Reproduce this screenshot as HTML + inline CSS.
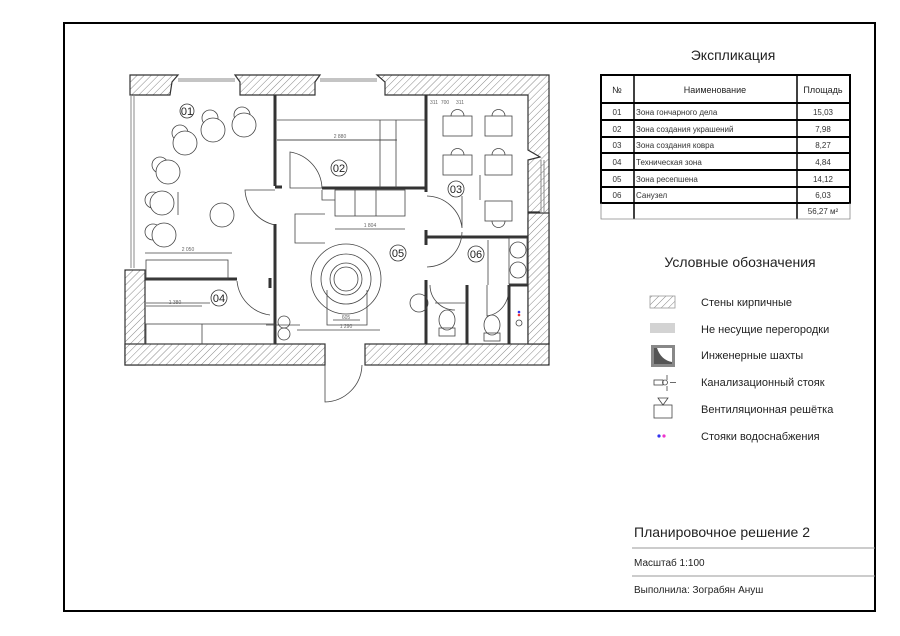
<!DOCTYPE html>
<html><head><meta charset="utf-8"><style>
html,body{margin:0;padding:0;background:#fff;}
svg{display:block;font-family:"Liberation Sans","DejaVu Sans",sans-serif;}
</style></head><body>
<svg width="900" height="636" viewBox="0 0 900 636" xmlns="http://www.w3.org/2000/svg">
<defs>
<pattern id="h" width="5" height="5" patternUnits="userSpaceOnUse" patternTransform="rotate(45)">
<rect width="5" height="5" fill="#fff"/><line x1="0" y1="0" x2="0" y2="5" stroke="#888" stroke-width="1"/>
</pattern>
</defs>
<rect x="64" y="23" width="811" height="588" fill="none" stroke="#000" stroke-width="2"/>

<!-- Walls hatched -->
<g fill="url(#h)" stroke="#333" stroke-width="1.2">
<polygon points="130,75 178,75 172,82 170,95 130,95"/>
<polygon points="235,75 320,75 315,82 315,95 240,95 240,82"/>
<polygon points="377,75 549,75 549,344 528,344 528,218 540,212 528,212 528,160 540,157 528,150 528,95 385,95 385,82"/>
<rect x="125" y="270" width="20" height="95"/>
<rect x="125" y="344" width="200" height="21"/>
<rect x="365" y="344" width="184" height="21"/>
<rect x="528" y="213" width="21" height="131"/>
</g>
<!-- windows -->
<g stroke="#888" stroke-width="1" fill="none">
<line x1="178" y1="79" x2="235" y2="79"/><line x1="178" y1="81" x2="235" y2="81"/>
<line x1="320" y1="79" x2="377" y2="79"/><line x1="320" y1="81" x2="377" y2="81"/>
<line x1="131" y1="95" x2="131" y2="268"/><line x1="134" y1="95" x2="134" y2="268"/>
<line x1="541" y1="160" x2="541" y2="213"/><line x1="544" y1="160" x2="544" y2="213"/>
</g>
<!-- partitions -->
<g stroke="#333" stroke-width="3" fill="none">
<line x1="275" y1="95" x2="275" y2="186"/>
<line x1="275" y1="224" x2="275" y2="344"/>
<line x1="275" y1="187" x2="282" y2="187"/>
<line x1="322" y1="188" x2="427" y2="188"/>
<line x1="426" y1="95" x2="426" y2="192"/>
<line x1="426" y1="230" x2="426" y2="245"/>
<line x1="426" y1="237" x2="528" y2="237"/>
<line x1="145" y1="279" x2="237" y2="279"/>
<line x1="426" y1="280" x2="426" y2="344"/>
<line x1="467" y1="285" x2="467" y2="344"/>
<line x1="509" y1="285" x2="509" y2="344"/>
<line x1="509" y1="285" x2="528" y2="285"/>
<line x1="270" y1="278" x2="270" y2="288"/>
</g>
<!-- furniture lines -->
<g stroke="#444" stroke-width="0.8" fill="none">
<polyline points="277,120 426,120"/>
<line x1="277" y1="140" x2="396" y2="140"/>
<line x1="380" y1="120" x2="380" y2="188"/>
<line x1="396" y1="120" x2="396" y2="188"/>
<rect x="335" y="190" width="70" height="26"/>
<line x1="355" y1="190" x2="355" y2="216"/><line x1="376" y1="190" x2="376" y2="216"/>
<polyline points="322,190 322,200 335,200"/>
<polyline points="325,214 295,214 295,243 325,243"/>
<rect x="146" y="260" width="82" height="19"/>
<rect x="146" y="324" width="128" height="20" />
<line x1="202" y1="324" x2="202" y2="344"/>
<line x1="146" y1="303" x2="210" y2="303"/>
<line x1="266" y1="325" x2="300" y2="325"/>
<!-- doors -->
<path d="M275,225 A38,38 0 0 1 245,190 L275,190"/>
<path d="M290,152 A38,38 0 0 1 322,188 L290,188 Z" fill="none"/>
<path d="M237,281 A38,38 0 0 0 270,315"/>
<path d="M427,196 A36,36 0 0 1 462,228 L462,196"/>
<path d="M427,267 A36,36 0 0 0 462,232"/>
<path d="M325,365 L325,402 A38,38 0 0 0 362,365"/>
<path d="M430,285 A25,25 0 0 0 455,310"/>
<path d="M487,285 L487,316 A25,25 0 0 0 508,287"/>
<line x1="488" y1="240" x2="488" y2="285"/>
<rect x="509" y="238" width="18" height="46"/>
<circle cx="518" cy="250" r="8"/><circle cx="518" cy="270" r="8"/>
<ellipse cx="447" cy="320" rx="8" ry="10"/><rect x="439" y="328" width="16" height="8"/>
<ellipse cx="492" cy="325" rx="8" ry="10"/><rect x="484" y="333" width="16" height="8"/>
<circle cx="519" cy="323" r="3"/>
<line x1="435" y1="303" x2="465" y2="303"/>
<circle cx="419" cy="303" r="9"/>
<!-- 03 desks -->
<rect x="443" y="116" width="29" height="20"/><path d="M451,116 A6,6 0 0 1 464,116"/>
<rect x="485" y="116" width="27" height="20"/><path d="M492,116 A6,6 0 0 1 505,116"/>
<rect x="443" y="155" width="29" height="20"/><path d="M451,155 A6,6 0 0 1 464,155"/>
<rect x="485" y="155" width="27" height="20"/><path d="M492,155 A6,6 0 0 1 505,155"/>
<rect x="485" y="201" width="27" height="20"/><path d="M492,221 A6,6 0 0 0 505,221"/>
<!-- 05 -->
<circle cx="346" cy="279" r="35"/><circle cx="346" cy="279" r="25"/><circle cx="346" cy="279" r="16"/><circle cx="346" cy="279" r="12"/>
<polyline points="327,290 327,325 367,325 367,290"/>
<circle cx="284" cy="322" r="6"/><circle cx="284" cy="334" r="6"/>
<!-- 01 circles -->
<circle cx="210" cy="118" r="8"/><circle cx="213" cy="130" r="12" fill="#fff"/>
<circle cx="242" cy="115" r="8"/><circle cx="244" cy="125" r="12" fill="#fff"/>
<circle cx="180" cy="133" r="8"/><circle cx="185" cy="143" r="12" fill="#fff"/>
<circle cx="160" cy="165" r="8"/><circle cx="168" cy="172" r="12" fill="#fff"/>
<circle cx="153" cy="200" r="8"/><circle cx="162" cy="203" r="12" fill="#fff"/>
<circle cx="222" cy="215" r="12"/>
<circle cx="153" cy="232" r="8"/><circle cx="164" cy="235" r="12" fill="#fff"/>
<!-- dims -->
<line x1="145" y1="253" x2="232" y2="253"/>
<line x1="146" y1="306" x2="202" y2="306"/>
<line x1="277" y1="140" x2="397" y2="140"/>
<line x1="335" y1="229" x2="405" y2="229"/>
<line x1="178" y1="192" x2="178" y2="215"/>
<line x1="297" y1="330" x2="380" y2="330"/>
<line x1="333" y1="320" x2="360" y2="320"/>
<line x1="480" y1="175" x2="480" y2="200"/>
</g>
<g font-size="5" fill="#666" text-anchor="middle">
<text x="188" y="251">2 050</text><text x="175" y="304">1 380</text>
<text x="340" y="138">2 880</text><text x="370" y="227">1 804</text>
<text x="346" y="328">1 290</text><text x="346" y="319">605</text>
<text x="445" y="104">700</text><text x="434" y="104">311</text><text x="460" y="104">311</text>
</g>
<g font-size="11" fill="#222" text-anchor="middle">
<circle cx="187" cy="111" r="7" fill="none" stroke="#333" stroke-width="0.8"/><text x="187" y="115">01</text>
<circle cx="339" cy="168" r="8" fill="none" stroke="#333" stroke-width="0.8"/><text x="339" y="172">02</text>
<circle cx="456" cy="189" r="8" fill="none" stroke="#333" stroke-width="0.8"/><text x="456" y="193">03</text>
<circle cx="219" cy="298" r="8" fill="none" stroke="#333" stroke-width="0.8"/><text x="219" y="302">04</text>
<circle cx="398" cy="253" r="8" fill="none" stroke="#333" stroke-width="0.8"/><text x="398" y="257">05</text>
<circle cx="476" cy="254" r="8" fill="none" stroke="#333" stroke-width="0.8"/><text x="476" y="258">06</text>
</g>
<circle cx="519" cy="315" r="1.3" fill="#e33"/><circle cx="519" cy="312" r="1.3" fill="#33e"/>

<!-- Explication -->
<text x="733" y="60" font-size="14" text-anchor="middle" fill="#222">Экспликация</text>
<g stroke="#000" fill="none">
<rect x="601" y="75" width="249" height="128" stroke-width="2"/>
<line x1="634" y1="75" x2="634" y2="219" stroke-width="1.5"/>
<line x1="797" y1="75" x2="797" y2="219" stroke-width="1.5"/>
<line x1="601" y1="103" x2="850" y2="103" stroke-width="2"/>
<line x1="601" y1="120" x2="850" y2="120" stroke-width="2"/>
<line x1="601" y1="137" x2="850" y2="137" stroke-width="2"/>
<line x1="601" y1="153" x2="850" y2="153" stroke-width="2"/>
<line x1="601" y1="170" x2="850" y2="170" stroke-width="2"/>
<line x1="601" y1="187" x2="850" y2="187" stroke-width="2"/>
<polyline points="601,203 601,219 850,219 850,203" stroke-width="0.8" stroke="#888"/>
</g>
<g font-size="9" fill="#222">
<text x="617" y="93" text-anchor="middle">№</text>
<text x="715" y="93" text-anchor="middle">Наименование</text>
<text x="823" y="93" text-anchor="middle">Площадь</text>
<g font-size="8" fill="#333">
<text x="617" y="115" text-anchor="middle">01</text><text x="636" y="115">Зона гончарного дела</text><text x="823" y="115" text-anchor="middle">15,03</text>
<text x="617" y="132" text-anchor="middle">02</text><text x="636" y="132">Зона создания украшений</text><text x="823" y="132" text-anchor="middle">7,98</text>
<text x="617" y="148" text-anchor="middle">03</text><text x="636" y="148">Зона создания ковра</text><text x="823" y="148" text-anchor="middle">8,27</text>
<text x="617" y="165" text-anchor="middle">04</text><text x="636" y="165">Техническая зона</text><text x="823" y="165" text-anchor="middle">4,84</text>
<text x="617" y="182" text-anchor="middle">05</text><text x="636" y="182">Зона ресепшена</text><text x="823" y="182" text-anchor="middle">14,12</text>
<text x="617" y="198" text-anchor="middle">06</text><text x="636" y="198">Санузел</text><text x="823" y="198" text-anchor="middle">6,03</text>
<text x="823" y="214" text-anchor="middle">56,27 м²</text>
</g></g>

<!-- Legend -->
<text x="740" y="267" font-size="14" text-anchor="middle" fill="#222">Условные обозначения</text>
<rect x="650" y="296" width="25" height="12" fill="url(#h)" stroke="#999" stroke-width="0.8"/>
<rect x="650" y="323" width="25" height="10" fill="#d3d3d3"/>
<rect x="651" y="345" width="24" height="22" fill="#888"/>
<path d="M654,348 L672,348 L672,364 Q660,360 656,348 Z" fill="#fff"/>
<path d="M654,348 L657,348 Q661,360 672,362 L672,364 L654,364 Z" fill="#555"/>
<g stroke="#444" fill="none" stroke-width="0.8">
<line x1="667" y1="375" x2="667" y2="380"/><line x1="667" y1="386" x2="667" y2="391"/>
<rect x="654" y="380" width="9" height="5"/><circle cx="665" cy="382.5" r="2.5"/>
<line x1="670" y1="382.5" x2="676" y2="382.5"/>
<rect x="654" y="405" width="18" height="13"/>
<path d="M658,398 L668,398 L663,405 Z"/>
</g>
<circle cx="659" cy="436" r="1.6" fill="#33e"/><circle cx="664" cy="436" r="1.6" fill="#e3c"/>
<g font-size="11" fill="#222">
<text x="701" y="306">Стены кирпичные</text>
<text x="701" y="333">Не несущие перегородки</text>
<text x="701" y="359">Инженерные шахты</text>
<text x="701" y="386">Канализационный стояк</text>
<text x="701" y="413">Вентиляционная решётка</text>
<text x="701" y="440">Стояки водоснабжения</text>
</g>

<!-- title block -->
<text x="634" y="537" font-size="14" fill="#222">Планировочное решение 2</text>
<line x1="632" y1="548" x2="875" y2="548" stroke="#999"/>
<text x="634" y="566" font-size="10" fill="#222">Масштаб 1:100</text>
<line x1="632" y1="576" x2="875" y2="576" stroke="#999"/>
<text x="634" y="593" font-size="10" fill="#222">Выполнила: Зограбян Ануш</text>
</svg>
</body></html>
